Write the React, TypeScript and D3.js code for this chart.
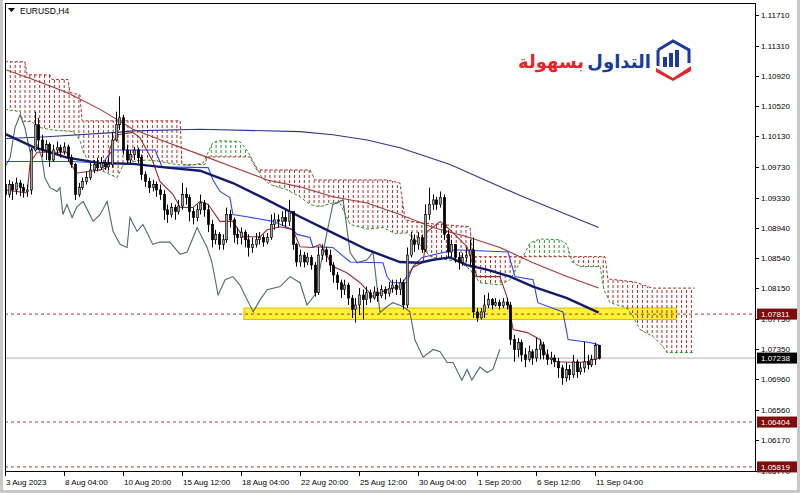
import React from 'react';
import * as d3 from 'd3';

// ---------- DATA ----------
const firstOpen = 1.0950;
const closes = [
  1.0937, 1.0950, 1.0943, 1.0952, 1.0946, 1.0941, 1.0943, 1.0995, 1.1028, 1.1008,
  1.0995, 1.1002, 1.0982, 1.0995, 1.0998, 1.0993, 1.0999, 1.0985, 1.0976, 1.0937,
  1.0946, 1.0954, 1.0959, 1.0969, 1.0976, 1.0972, 1.0978, 1.0973, 1.0976, 1.1008,
  1.1028, 1.1037, 1.0995, 1.0982, 1.0989, 1.0995, 1.0985, 1.0963, 1.0954, 1.0946,
  1.0950, 1.0943, 1.0937, 1.0917, 1.0911, 1.0920, 1.0915, 1.0922, 1.0937, 1.0933,
  1.0915, 1.0907, 1.0917, 1.0926, 1.0917, 1.0898, 1.0878, 1.0885, 1.0872, 1.0878,
  1.0911, 1.0904, 1.0885, 1.0881, 1.0888, 1.0878, 1.0868, 1.0872, 1.0878, 1.0881,
  1.0875, 1.0881, 1.0898, 1.0904, 1.0902, 1.0907, 1.0902, 1.0915, 1.0872, 1.0849,
  1.0858, 1.0849, 1.0855, 1.0845, 1.0809, 1.0858, 1.0865, 1.0858, 1.0845, 1.0832,
  1.0822, 1.0813, 1.0819, 1.0802, 1.0787, 1.0793, 1.0806, 1.0800, 1.0809, 1.0802,
  1.0810, 1.0805, 1.0813, 1.0808, 1.0815, 1.0819, 1.0813, 1.0822, 1.0793, 1.0858,
  1.0878, 1.0872, 1.0881, 1.0865, 1.0911, 1.0924, 1.0930, 1.0924, 1.0933, 1.0885,
  1.0862, 1.0872, 1.0855, 1.0849, 1.0855, 1.0858, 1.0865, 1.0784, 1.0776, 1.0784,
  1.0793, 1.0800, 1.0793, 1.0796, 1.0792, 1.0797, 1.0793, 1.0748, 1.0735, 1.0744,
  1.0728, 1.0722, 1.0732, 1.0724, 1.0735, 1.0741, 1.0728, 1.0722, 1.0724, 1.0719,
  1.0711, 1.0698, 1.0709, 1.0702, 1.0719, 1.0706, 1.0711, 1.0719, 1.0715, 1.0722,
  1.0740, 1.07238,
];
const highs = [
  1.0959, 1.0956, 1.0954, 1.0959, 1.0956, 1.0951, 1.0950, 1.0998, 1.1045, 1.1037,
  1.1015, 1.1008, 1.1005, 1.1002, 1.1006, 1.1002, 1.1005, 1.1002, 1.0989, 1.0978,
  1.0952, 1.0959, 1.0967, 1.0978, 1.0982, 1.0985, 1.0986, 1.0982, 1.0985, 1.1018,
  1.1045, 1.1065, 1.1041, 1.1002, 1.0995, 1.0999, 1.0998, 1.0989, 1.0967, 1.0959,
  1.0956, 1.0954, 1.0950, 1.0943, 1.0924, 1.0926, 1.0924, 1.0930, 1.0952, 1.0946,
  1.0937, 1.0920, 1.0924, 1.0937, 1.0930, 1.0924, 1.0904, 1.0891, 1.0888, 1.0885,
  1.0920, 1.0917, 1.0907, 1.0894, 1.0894, 1.0891, 1.0885, 1.0881, 1.0887, 1.0888,
  1.0885, 1.0887, 1.0911, 1.0913, 1.0911, 1.0915, 1.0917, 1.0930, 1.0915, 1.0874,
  1.0865, 1.0862, 1.0861, 1.0858, 1.0849, 1.0869, 1.0872, 1.0869, 1.0865, 1.0849,
  1.0836, 1.0826, 1.0826, 1.0822, 1.0806, 1.0802, 1.0815, 1.0813, 1.0817, 1.0813,
  1.0817, 1.0815, 1.0819, 1.0817, 1.0823, 1.0826, 1.0826, 1.0828, 1.0826, 1.0868,
  1.0888, 1.0885, 1.0888, 1.0885, 1.0924, 1.0946, 1.0937, 1.0934, 1.0941, 1.0937,
  1.0891, 1.0878, 1.0872, 1.0862, 1.0861, 1.0868, 1.0878, 1.0881, 1.0789, 1.0789,
  1.0806, 1.0809, 1.0802, 1.0802, 1.0800, 1.0802, 1.0802, 1.0797, 1.0754, 1.0750,
  1.0748, 1.0737, 1.0740, 1.0735, 1.0750, 1.0748, 1.0745, 1.0735, 1.0732, 1.0728,
  1.0724, 1.0715, 1.0718, 1.0715, 1.0728, 1.0722, 1.0718, 1.0745, 1.0728, 1.0728,
  1.0744, 1.0741,
];
const lows = [
  1.0920, 1.0933, 1.0930, 1.0937, 1.0935, 1.0933, 1.0934, 1.0937, 1.0993, 1.0995,
  1.0986, 1.0982, 1.0973, 1.0980, 1.0989, 1.0985, 1.0989, 1.0980, 1.0972, 1.0930,
  1.0934, 1.0943, 1.0950, 1.0956, 1.0965, 1.0967, 1.0969, 1.0969, 1.0969, 1.0972,
  1.1006, 1.1021, 1.0989, 1.0976, 1.0978, 1.0982, 1.0978, 1.0956, 1.0947, 1.0939,
  1.0941, 1.0934, 1.0930, 1.0904, 1.0900, 1.0907, 1.0904, 1.0911, 1.0917, 1.0924,
  1.0902, 1.0898, 1.0902, 1.0911, 1.0908, 1.0888, 1.0868, 1.0872, 1.0865, 1.0865,
  1.0874, 1.0894, 1.0874, 1.0872, 1.0872, 1.0868, 1.0856, 1.0861, 1.0868, 1.0872,
  1.0869, 1.0872, 1.0878, 1.0891, 1.0894, 1.0896, 1.0894, 1.0896, 1.0865, 1.0843,
  1.0843, 1.0842, 1.0845, 1.0839, 1.0804, 1.0806, 1.0852, 1.0849, 1.0836, 1.0822,
  1.0813, 1.0802, 1.0806, 1.0793, 1.0776, 1.0770, 1.0780, 1.0774, 1.0793, 1.0796,
  1.0800, 1.0797, 1.0802, 1.0800, 1.0804, 1.0809, 1.0806, 1.0806, 1.0787, 1.0789,
  1.0855, 1.0862, 1.0865, 1.0861, 1.0862, 1.0904, 1.0917, 1.0917, 1.0920, 1.0878,
  1.0855, 1.0856, 1.0848, 1.0839, 1.0844, 1.0849, 1.0845, 1.0776, 1.0771, 1.0774,
  1.0776, 1.0789, 1.0787, 1.0791, 1.0787, 1.0789, 1.0787, 1.0741, 1.0719, 1.0725,
  1.0719, 1.0712, 1.0719, 1.0715, 1.0719, 1.0722, 1.0722, 1.0715, 1.0716, 1.0712,
  1.0698, 1.0689, 1.0693, 1.0695, 1.0698, 1.0698, 1.0702, 1.0705, 1.0709, 1.0712,
  1.0715, 1.0722,
];

// indicator lines: [bar index, price]
const maLong: [number, number][] = [
  [0, 1.1010], [10.3, 1.1012], [30.4, 1.1018], [34.7, 1.1020], [52.9, 1.1022], [80, 1.1019],
  [88.9, 1.1015], [98.2, 1.1008], [107.1, 1.0998], [120.7, 1.0976], [140.5, 1.0934], [161, 1.0894],
];
const maMid: [number, number][] = [
  [0, 1.1016], [7.6, 1.0999], [16.8, 1.0985], [25.8, 1.0978], [34.7, 1.0977], [43.9, 1.0972],
  [52.9, 1.0968], [61.8, 1.0952], [71.1, 1.0930], [80, 1.0908], [88.9, 1.0887], [98.2, 1.0865],
  [107.1, 1.0849], [112.5, 1.0848], [116.1, 1.0852], [120.7, 1.0855], [125.3, 1.0845],
  [130.7, 1.0839], [137, 1.0830], [143.2, 1.0817], [152.4, 1.0802], [161, 1.0783],
];
const maBrown: [number, number][] = [
  [0, 1.1100], [7.6, 1.1087], [16.8, 1.1070], [25.8, 1.1048], [34.7, 1.1022], [43.9, 1.1005],
  [52.9, 1.0989], [61.8, 1.0973], [71.1, 1.0956], [80, 1.0947], [88.9, 1.0934], [98.2, 1.0926],
  [107.1, 1.0911], [116.1, 1.0894], [125.3, 1.0882], [134.2, 1.0868], [143.2, 1.0848],
  [152.4, 1.0830], [161, 1.0815],
];
const kijun: [number, number][] = [
  [0, 1.0980], [17.6, 1.0980], [26.6, 1.0978], [27.7, 1.0986], [29.3, 1.0995], [40.7, 1.0995],
  [42.6, 1.0973], [55.1, 1.0972], [56.4, 1.0956], [58.3, 1.0941], [61, 1.0933], [61.8, 1.0911],
  [65.6, 1.0908], [72.7, 1.0902], [78.1, 1.0891], [79.2, 1.0885], [82.7, 1.0881], [83.5, 1.0869],
  [88.9, 1.0868], [93.6, 1.0849], [102.5, 1.0848], [103.6, 1.0830], [104.9, 1.0822], [109, 1.0822],
  [110.6, 1.0843], [113.1, 1.0855], [122, 1.0865], [136.4, 1.0862], [138.3, 1.0830], [143.2, 1.0826],
  [144.5, 1.0796], [151.3, 1.0784], [152.7, 1.0748], [158.6, 1.0744], [161, 1.0741],
];
const tenkan: [number, number][] = [
  [0, 1.0943], [6, 1.0939], [6.8, 1.0978], [8.7, 1.0992], [16.8, 1.0992], [17.6, 1.0978],
  [19.5, 1.0965], [25.8, 1.0969], [27.7, 1.0972], [28.5, 1.0998], [30.4, 1.1015], [34.7, 1.1018],
  [36.6, 1.1011], [40.1, 1.0980], [42, 1.0954], [45.6, 1.0937], [47.5, 1.0920], [51, 1.0920],
  [52.9, 1.0928], [55.1, 1.0924], [58.3, 1.0902], [61.8, 1.0902], [64.5, 1.0882], [69.2, 1.0882],
  [71.1, 1.0891], [74.6, 1.0895], [78.1, 1.0891], [80, 1.0869], [83.5, 1.0868], [85.4, 1.0872],
  [86.8, 1.0862], [88.9, 1.0843], [92.7, 1.0835], [96.3, 1.0822], [99.8, 1.0804], [103.6, 1.0813],
  [107.1, 1.0817], [110.6, 1.0842], [113.4, 1.0849], [114.4, 1.0888], [118, 1.0902], [120.7, 1.0891],
  [125.3, 1.0869], [128, 1.0830], [134.2, 1.0830], [136.1, 1.0804], [137.8, 1.0761], [141.6, 1.0757],
  [145.1, 1.0748], [147, 1.0725], [149.7, 1.0719], [155.1, 1.0718], [157.8, 1.0719], [161, 1.0724],
];
const chikou: [number, number][] = [
  [0, 1.0973], [1.4, 1.0985], [2.7, 1.1024], [4.1, 1.1041], [5.4, 1.1024], [6.8, 1.0993],
  [8.7, 1.1002], [10, 1.0985], [10.8, 1.0959], [12.2, 1.0946], [14.1, 1.0941], [14.9, 1.0946],
  [15.7, 1.0911], [16.8, 1.0924], [18.2, 1.0907], [19.5, 1.0921], [21.2, 1.0928], [23.9, 1.0902],
  [25.8, 1.0911], [27.7, 1.0928], [29.3, 1.0889], [31.2, 1.0872], [33.1, 1.0868], [33.9, 1.0907],
  [35.8, 1.0889], [37.4, 1.0898], [40.1, 1.0872], [42, 1.0875], [44.7, 1.0875], [47.5, 1.0859],
  [49.4, 1.0862], [52.1, 1.0894], [54.8, 1.0868], [56.1, 1.0849], [57.8, 1.0806], [59.7, 1.0826],
  [61.8, 1.0830], [63.7, 1.0819], [67.3, 1.0784], [69.2, 1.0800], [71.1, 1.0813], [74.6, 1.0817],
  [77.3, 1.0830], [80, 1.0822], [81.9, 1.0793], [84, 1.0806], [87.3, 1.0887], [88.9, 1.0924],
  [91.7, 1.0930], [93.6, 1.0861], [95.5, 1.0848], [98.2, 1.0852], [99.8, 1.0862], [101.7, 1.0783],
  [103.6, 1.0791], [105.2, 1.0796], [107.9, 1.0791], [109.8, 1.0784], [111.2, 1.0747], [113.4, 1.0725],
  [116.1, 1.0735], [118, 1.0732], [119.9, 1.0718], [121.5, 1.0718], [123.9, 1.0695], [125.3, 1.0709],
  [126.6, 1.0695], [128.8, 1.0712], [130.7, 1.0705], [132.3, 1.0709], [134.2, 1.0735],
];
const spanA: [number, number][] = [
  [0, 1.1048], [4.1, 1.1045], [4.9, 1.1032], [7.3, 1.1032], [8.7, 1.1025], [13, 1.1021],
  [18.4, 1.1019], [20.3, 1.1008], [21.2, 1.0993], [23.1, 1.0976], [25.8, 1.0969], [28.5, 1.0963],
  [30.4, 1.0959], [32, 1.0975], [34.7, 1.0980], [38.5, 1.0982], [42, 1.0980], [46.6, 1.0976],
  [50.2, 1.0975], [53.7, 1.0978], [54.8, 1.0989], [56.4, 1.1005], [58.3, 1.1007], [63.7, 1.1006],
  [65.6, 1.0995], [67.8, 1.0976], [69.7, 1.0959], [71.9, 1.0950], [76.5, 1.0943], [80, 1.0934],
  [82.7, 1.0924], [85.4, 1.0921], [88.9, 1.0926], [90.8, 1.0926], [93.6, 1.0898], [98.2, 1.0892],
  [102.5, 1.0894], [105.8, 1.0886], [109, 1.0887], [112.5, 1.0872], [115.3, 1.0856], [119.9, 1.0852],
  [123.4, 1.0849], [126.1, 1.0839], [128.8, 1.0822], [134.2, 1.0819], [137, 1.0826], [139.7, 1.0849],
  [142.4, 1.0874], [145.1, 1.0879], [150.5, 1.0878], [152.4, 1.0872], [153.8, 1.0849], [155.9, 1.0843],
  [161.4, 1.0843], [162.4, 1.0813], [164.1, 1.0796], [168.7, 1.0789], [170.3, 1.0778], [172.2, 1.0761],
  [175.7, 1.0752], [178.4, 1.0739], [179.5, 1.0731], [187, 1.0731],
];
const spanB: [number, number][] = [
  [0, 1.1110], [5.4, 1.1110], [6, 1.1093], [12.2, 1.1093], [12.7, 1.1087], [17.1, 1.1087],
  [17.6, 1.1070], [20.3, 1.1067], [20.9, 1.1033], [47.5, 1.1033], [48, 1.0976], [54.2, 1.0976],
  [54.8, 1.0986], [66.4, 1.0986], [68.3, 1.0969], [82.7, 1.0969], [84.1, 1.0956], [103.6, 1.0956],
  [107.1, 1.0952], [108.5, 1.0904], [112.5, 1.0900], [126.1, 1.0895], [126.9, 1.0856], [162.7, 1.0856],
  [163.5, 1.0827], [170.8, 1.0823], [175.5, 1.0815], [187, 1.0815],
];

const timeLabels = [
  '3 Aug 2023', '8 Aug 04:00', '10 Aug 20:00', '15 Aug 12:00', '18 Aug 04:00', '22 Aug 20:00',
  '25 Aug 12:00', '30 Aug 04:00', '1 Sep 20:00', '6 Sep 12:00', '11 Sep 04:00',
];
const timeLabelBars = [0, 16, 32, 48, 64, 80, 96, 112, 128, 144, 160];
const priceTicks = [
  1.1171, 1.1131, 1.1092, 1.1052, 1.1013, 1.0973, 1.0933, 1.0894, 1.0854, 1.0815, 1.0775,
  1.0735, 1.0696, 1.0656, 1.0617, 1.0577,
];
const levelLines = [1.07811, 1.06404, 1.05819];
const bidPrice = 1.07238;
const zoneBars = [64.8, 182];
const zonePrices = [1.0789, 1.0774];

// ---------- LAYOUT ----------
const W = 800, H = 493;
const plot = { left: 5, right: 755, top: 4, bottom: 472 };
const FONT = 'Liberation Sans, Arial, sans-serif';

const x = d3.scaleLinear().domain([0, 160]).range([5, 595]);
const y = d3.scaleLinear().domain([1.0617, 1.1171]).range([440, 15]);
const fmt = d3.format('.5f');

const lineGen = d3.line<[number, number]>().x(d => x(d[0])).y(d => y(d[1]));

export default function App() {
  const opens = closes.map((c, i) => (i === 0 ? firstOpen : closes[i - 1]));
  const aS = d3.scaleLinear().domain(spanA.map(d => d[0])).range(spanA.map(d => d[1]));
  const bS = d3.scaleLinear().domain(spanB.map(d => d[0])).range(spanB.map(d => d[1]));
  const grid = d3.range(0, 187.001, 0.2);
  const redArea = d3.area<number>()
    .x(b => x(b))
    .y0(b => y(aS(b)))
    .y1(b => y(Math.max(aS(b), bS(b))));
  const greenArea = d3.area<number>()
    .x(b => x(b))
    .y0(b => y(bS(b)))
    .y1(b => y(Math.max(aS(b), bS(b))));

  const bodyW = 2.4;

  return (
    <svg width={W} height={H} style={{ position: 'absolute', left: 0, top: 0, background: '#fff' }}
      fontFamily={FONT}>
      <defs>
        <clipPath id="plotClip">
          <rect x={plot.left} y={plot.top} width={plot.right - plot.left} height={plot.bottom - plot.top} />
        </clipPath>
        <pattern id="hatchRed" width={4.9} height={5} patternUnits="userSpaceOnUse">
          <rect x={0} y={0} width={1} height={3} fill="#a8302c" />
        </pattern>
        <pattern id="hatchGreen" width={4.9} height={5} patternUnits="userSpaceOnUse">
          <rect x={0} y={0} width={1} height={3} fill="#2e962e" />
        </pattern>
      </defs>
      <rect x={0} y={0} width={W} height={H} fill="#fff" />
      {/* window chrome */}
      <rect x={0} y={0} width={3} height={H} fill="#c8c8c8" />
      <rect x={W - 3} y={0} width={3} height={H} fill="#c8c8c8" />
      <rect x={0} y={H - 3} width={W} height={3} fill="#c8c8c8" />

      <g clipPath="url(#plotClip)">
        {/* support zone */}
        <rect x={x(zoneBars[0])} y={y(zonePrices[0])} width={x(zoneBars[1]) - x(zoneBars[0])}
          height={y(zonePrices[1]) - y(zonePrices[0])} fill="#fff133" stroke="#e8b400" strokeWidth={1} />
        {/* level lines */}
        {levelLines.map(p => (
          <line key={p} x1={plot.left} x2={plot.right} y1={y(p)} y2={y(p)} stroke="#a83a3a"
            strokeWidth={1} strokeDasharray="3,3" />
        ))}
        <line x1={plot.left} x2={plot.right} y1={y(bidPrice)} y2={y(bidPrice)} stroke="#b4b4b4" strokeWidth={1} />
        {/* cloud */}
        <path d={redArea(grid) || ''} fill="url(#hatchRed)" />
        <path d={greenArea(grid) || ''} fill="url(#hatchGreen)" />
        <path d={lineGen(spanB) || ''} fill="none" stroke="#a8302c" strokeWidth={1} strokeDasharray="3,2" />
        <path d={lineGen(spanA) || ''} fill="none" stroke="#2e962e" strokeWidth={1} strokeDasharray="3,2" />
        {/* moving averages */}
        <path d={lineGen(maLong) || ''} fill="none" stroke="#2d3591" strokeWidth={1.1} />
        <path d={lineGen(maBrown) || ''} fill="none" stroke="#a83636" strokeWidth={1.1} />
        {/* ichimoku lines */}
        <path d={lineGen(chikou) || ''} fill="none" stroke="#4f6a6a" strokeWidth={1.1} />
        <path d={lineGen(kijun) || ''} fill="none" stroke="#2a44ff" strokeWidth={1.1} />
        <path d={lineGen(tenkan) || ''} fill="none" stroke="#a42828" strokeWidth={1.1} />
        <path d={lineGen(maMid) || ''} fill="none" stroke="#141a6e" strokeWidth={2.4} />
        {/* candles */}
        {closes.map((c, i) => {
          const o = opens[i];
          const cx = Math.round(x(i)) + 0.5;
          const up = c >= o;
          const top = y(Math.max(o, c));
          const bot = y(Math.min(o, c));
          return (
            <g key={i}>
              <line x1={cx} x2={cx} y1={y(highs[i])} y2={y(lows[i])} stroke="#000" strokeWidth={1} />
              <rect x={cx - bodyW / 2} y={top} width={bodyW} height={Math.max(1, bot - top)}
                fill={up ? '#a0a0a0' : '#000'} stroke="#000" strokeWidth={0.6} />
            </g>
          );
        })}
      </g>

      {/* frame */}
      <rect x={plot.left + 0.5} y={plot.top - 0.5} width={plot.right - plot.left} height={plot.bottom - plot.top}
        fill="none" stroke="#000" strokeWidth={1} />

      {/* title */}
      <path d="M8,8 L15,8 L11.5,12 Z" fill="#000" />
      <text x={20} y={13.5} fontSize={8.5} fill="#000">EURUSD,H4</text>

      {/* price axis */}
      {priceTicks.map(p => (
        <g key={p}>
          <line x1={plot.right + 0.5} x2={plot.right + 4} y1={Math.round(y(p)) + 0.5} y2={Math.round(y(p)) + 0.5} stroke="#000" />
          <text x={761} y={y(p) + 3} fontSize={8} fill="#000">{fmt(p)}</text>
        </g>
      ))}
      {levelLines.map(p => (
        <g key={'lbl' + p}>
          <rect x={757} y={y(p) - 5.5} width={40} height={11} fill="#7e0c0c" />
          <text x={761} y={y(p) + 3} fontSize={8} fill="#fff">{fmt(p)}</text>
        </g>
      ))}
      <rect x={757} y={y(bidPrice) - 5.5} width={40} height={11} fill="#000" />
      <text x={761} y={y(bidPrice) + 3} fontSize={8} fill="#fff">{fmt(bidPrice)}</text>

      {/* time axis */}
      {timeLabelBars.map((b, i) => (
        <g key={b}>
          <line x1={Math.round(x(b)) + 0.5} x2={Math.round(x(b)) + 0.5} y1={plot.bottom} y2={plot.bottom + 4} stroke="#000" />
          <text x={x(b) + 1} y={485} fontSize={8} fill="#000">{timeLabels[i]}</text>
        </g>
      ))}

      {/* logo */}
      <g>
        <text x={584} y={68} textAnchor="end" fontFamily="DejaVu Sans" fontWeight="bold" fontSize={18}
          fill="#e2262b">بسهولة</text>
        <text x={651} y={68} textAnchor="end" fontFamily="DejaVu Sans" fontWeight="bold" fontSize={18}
          fill="#1c3a9e">التداول</text>
        <path d="M658,50 L673,41 L689,50 L689,63" fill="none" stroke="#1c3a9e" strokeWidth={3} />
        <path d="M658,50 L658,66" fill="none" stroke="#1c3a9e" strokeWidth={3} />
        <rect x={663} y={57} width={4} height={10} fill="#1c3a9e" />
        <rect x={669} y={53} width={4} height={14} fill="#1c3a9e" />
        <rect x={675} y={50} width={4} height={17} fill="#1c3a9e" />
        <path d="M656,68 L673,78 L691,66 L691,71 L673,81 L656,72 Z" fill="#e2262b" />
      </g>
    </svg>
  );
}
